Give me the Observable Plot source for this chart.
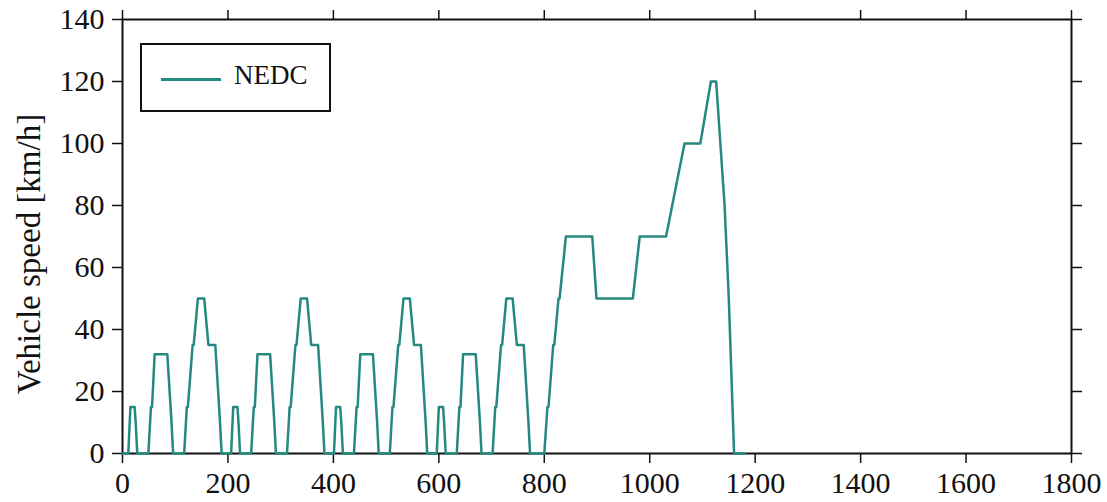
<!DOCTYPE html>
<html>
<head>
<meta charset="utf-8">
<script src="https://cdn.jsdelivr.net/npm/d3@7"></script>
<script src="https://cdn.jsdelivr.net/npm/@observablehq/plot@0.6"></script>
<style>
  html, body { margin: 0; padding: 0; background: #fff; }
  #wrap { position: relative; width: 1107px; height: 502px; }
  #legend {
    position: absolute; left: 140px; top: 43px; width: 187px; height: 65px;
    border: 2px solid #111; background: #fff; box-sizing: content-box;
    font-family: "Liberation Serif", "DejaVu Serif", serif; font-size: 27px; color: #111;
  }
  #legend .sw { position: absolute; left: 19px; top: 33px; width: 60px; height: 0; border-top: 3px solid #24897f; }
  #legend .lb { position: absolute; left: 92px; top: 14px; line-height: 32px; }
</style>
</head>
<body>
<div id="wrap">
  <div id="chart"></div>
  <div id="legend"><div class="sw"></div><div class="lb">NEDC</div></div>
</div>
<script>
// NEDC breakpoints: time [s] and vehicle speed [km/h]
const timeS = [
  0, 11, 15, 23, 25, 28, 49, 54, 56, 61, 85, 93, 96, 117, 122, 124, 133, 135, 143, 155, 163, 176, 185, 188,
  195, 206, 210, 218, 220, 223, 244, 249, 251, 256, 280, 288, 291, 312, 317, 319, 328, 330, 338, 350, 358, 371, 380, 383,
  390, 401, 405, 413, 415, 418, 439, 444, 446, 451, 475, 483, 486, 507, 512, 514, 523, 525, 533, 545, 553, 566, 575, 578,
  585, 596, 600, 608, 610, 613, 634, 639, 641, 646, 670, 678, 681, 702, 707, 709, 718, 720, 728, 740, 748, 761, 770, 773,
  780, 800, 806, 808, 817, 819, 827, 829, 841, 891, 899, 968, 981, 1031, 1066, 1096, 1116, 1126, 1142, 1150, 1160, 1180
];
const speedKmh = [
  0, 0, 15, 15, 10, 0, 0, 15, 15, 32, 32, 10, 0, 0, 15, 15, 35, 35, 50, 50, 35, 35, 10, 0,
  0, 0, 15, 15, 10, 0, 0, 15, 15, 32, 32, 10, 0, 0, 15, 15, 35, 35, 50, 50, 35, 35, 10, 0,
  0, 0, 15, 15, 10, 0, 0, 15, 15, 32, 32, 10, 0, 0, 15, 15, 35, 35, 50, 50, 35, 35, 10, 0,
  0, 0, 15, 15, 10, 0, 0, 15, 15, 32, 32, 10, 0, 0, 15, 15, 35, 35, 50, 50, 35, 35, 10, 0,
  0, 0, 15, 15, 35, 35, 50, 50, 70, 70, 50, 50, 70, 70, 100, 100, 120, 120, 80, 50, 0, 0
];
const xTicks = [0, 200, 400, 600, 800, 1000, 1200, 1400, 1600, 1800];
const yTicks = [0, 20, 40, 60, 80, 100, 120, 140];
const yLabel = "Vehicle speed [km/h]";

const data = timeS.map((t, i) => ({t, v: speedKmh[i]}));

const chart = Plot.plot({
  width: 1107,
  height: 502,
  marginLeft: 122,
  marginRight: 36,
  marginTop: 19,
  marginBottom: 49,
  style: {fontSize: "30px", color: "#111", background: "#fff"},
  x: {domain: [0, 1800]},
  y: {domain: [0, 140]},
  marks: [
    Plot.axisX({ticks: xTicks, tickSize: 10, tickPadding: 8, tickFormat: d => String(d), label: null, anchor: "bottom", strokeWidth: 1.5, fontSize: 30}),
    Plot.axisX({ticks: xTicks, tickSize: 10, tickFormat: () => "", label: null, anchor: "top", strokeWidth: 1.5}),
    Plot.axisY({ticks: yTicks, tickSize: 10, tickPadding: 8, tickFormat: d => String(d), label: null, anchor: "left", strokeWidth: 1.5, fontSize: 30}),
    Plot.axisY({ticks: yTicks, tickSize: 10, tickFormat: () => "", label: null, anchor: "right", strokeWidth: 1.5}),
    Plot.frame({stroke: "#111", strokeWidth: 2}),
    Plot.line(data, {x: "t", y: "v", stroke: "#24897f", strokeWidth: 2.5, strokeLinejoin: "round"})
  ]
});
d3.select(chart).append("text")
  .attr("transform", "translate(40,254) rotate(-90)")
  .attr("text-anchor", "middle")
  .attr("font-size", 33)
  .attr("fill", "#111")
  .text(yLabel);
const svg = d3.select(chart);
svg.style("font-family", null).attr("font-family", "Liberation Serif");
svg.selectAll("g, text").attr("font-family", "Liberation Serif").style("font-family", "Liberation Serif");
document.getElementById("chart").appendChild(chart);
</script>
</body>
</html>
